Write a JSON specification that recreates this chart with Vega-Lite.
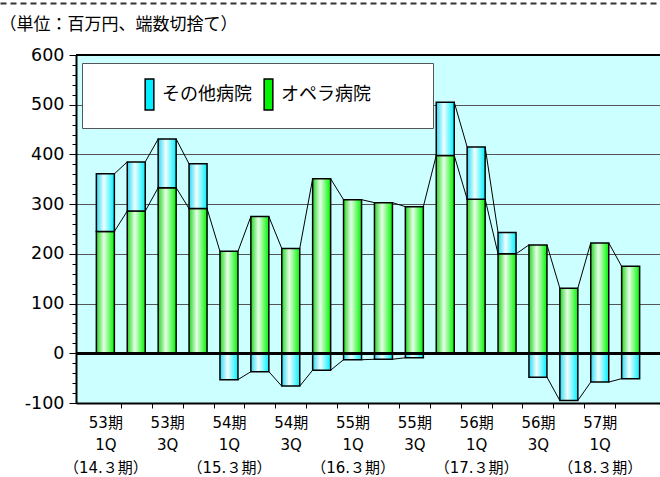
{
  "$schema": "https://vega.github.io/schema/vega-lite/v6.json",
  "width": 584,
  "height": 348,
  "autosize": "none",
  "padding": {"left": 76, "top": 55, "right": 0, "bottom": 74},
  "background": "white",
  "config": {
    "view": {"fill": "#CCFFFF", "stroke": null}
  },
  "data": {
    "values": [
      {"q": "53期1Q", "series": "オペラ病院", "value": 245}, {"q": "53期1Q", "series": "その他病院", "value": 116},
      {"q": "53期2Q", "series": "オペラ病院", "value": 286}, {"q": "53期2Q", "series": "その他病院", "value": 99},
      {"q": "53期3Q", "series": "オペラ病院", "value": 333}, {"q": "53期3Q", "series": "その他病院", "value": 98},
      {"q": "53期4Q", "series": "オペラ病院", "value": 291}, {"q": "53期4Q", "series": "その他病院", "value": 90},
      {"q": "54期1Q", "series": "オペラ病院", "value": 205}, {"q": "54期1Q", "series": "その他病院", "value": -53},
      {"q": "54期2Q", "series": "オペラ病院", "value": 275}, {"q": "54期2Q", "series": "その他病院", "value": -37},
      {"q": "54期3Q", "series": "オペラ病院", "value": 211}, {"q": "54期3Q", "series": "その他病院", "value": -66},
      {"q": "54期4Q", "series": "オペラ病院", "value": 351}, {"q": "54期4Q", "series": "その他病院", "value": -34},
      {"q": "55期1Q", "series": "オペラ病院", "value": 309}, {"q": "55期1Q", "series": "その他病院", "value": -13},
      {"q": "55期2Q", "series": "オペラ病院", "value": 303}, {"q": "55期2Q", "series": "その他病院", "value": -12},
      {"q": "55期3Q", "series": "オペラ病院", "value": 295}, {"q": "55期3Q", "series": "その他病院", "value": -9},
      {"q": "55期4Q", "series": "オペラ病院", "value": 398}, {"q": "55期4Q", "series": "その他病院", "value": 107},
      {"q": "56期1Q", "series": "オペラ病院", "value": 310}, {"q": "56期1Q", "series": "その他病院", "value": 105},
      {"q": "56期2Q", "series": "オペラ病院", "value": 200}, {"q": "56期2Q", "series": "その他病院", "value": 43},
      {"q": "56期3Q", "series": "オペラ病院", "value": 218}, {"q": "56期3Q", "series": "その他病院", "value": -48},
      {"q": "56期4Q", "series": "オペラ病院", "value": 131}, {"q": "56期4Q", "series": "その他病院", "value": -95},
      {"q": "57期1Q", "series": "オペラ病院", "value": 222}, {"q": "57期1Q", "series": "その他病院", "value": -58},
      {"q": "57期2Q", "series": "オペラ病院", "value": 175}, {"q": "57期2Q", "series": "その他病院", "value": -51}
    ]
  },
  "layer": [
    {
      "transform": [
        {"stack": "value", "groupby": ["q"], "sort": [{"field": "series", "order": "descending"}], "as": ["v0", "v1"]}
      ],
      "layer": [
        {
          "transform": [{"filter": "datum.series === 'オペラ病院'"}],
          "mark": {
            "type": "bar", "stroke": "black", "strokeWidth": 1.5,
            "fill": {"gradient": "linear", "x1": 0, "y1": 0, "x2": 1, "y2": 0, "stops": [{"offset": 0, "color": "#22D622"}, {"offset": 0.42, "color": "#E6FFE6"}, {"offset": 1, "color": "#00F500"}]}
          },
          "encoding": {
            "x": {
              "field": "q", "type": "nominal", "sort": null,
              "scale": {"paddingInner": 0.4175, "paddingOuter": 0.659},
              "axis": {
                "title": null,
                "labelAngle": 0,
                "labelOverlap": false,
                "labelFont": "DejaVu Sans, Noto Sans CJK JP",
                "labelFontSize": 15,
                "labelColor": "black",
                "labelLineHeight": 22.5,
                "labelPadding": 7,
                "labelExpr": "({'53期1Q':['53期','1Q','（14.３期）'],'53期3Q':['53期','3Q'],'54期1Q':['54期','1Q','（15.３期）'],'54期3Q':['54期','3Q'],'55期1Q':['55期','1Q','（16.３期）'],'55期3Q':['55期','3Q'],'56期1Q':['56期','1Q','（17.３期）'],'56期3Q':['56期','3Q'],'57期1Q':['57期','1Q','（18.３期）']})[datum.value] || ''",
                "tickOffset": -15.45,
                "labelOffset": 15.45,
                "tickSize": 5,
                "tickColor": "black",
                "tickOpacity": {"condition": {"test": "datum.value === '53期1Q'", "value": 0}, "value": 1},
                "domainColor": "black",
                "domainWidth": 2
              }
            },
            "y": {
              "field": "v0", "type": "quantitative",
              "scale": {"domain": [-100, 600], "nice": false, "zero": false},
              "axis": {
                "title": null,
                "values": [-100, 0, 100, 200, 300, 400, 500, 600],
                "labelExpr": "'' + datum.value",
                "labelOverlap": false,
                "labelFont": "DejaVu Sans",
                "labelFontSize": 17.5,
                "labelColor": "black",
                "labelPadding": 5,
                "tickColor": "black",
                "tickSize": 7,
                "domainColor": "black",
                "domainWidth": 2,
                "grid": true,
                "gridColor": "#555555",
                "gridWidth": 1
              }
            },
            "y2": {"field": "v1"}
          }
        },
        {
          "transform": [{"filter": "datum.series === 'その他病院'"}],
          "mark": {
            "type": "bar", "stroke": "black", "strokeWidth": 1.5,
            "fill": {"gradient": "linear", "x1": 0, "y1": 0, "x2": 1, "y2": 0, "stops": [{"offset": 0, "color": "#2AD8F2"}, {"offset": 0.42, "color": "#F0FFFF"}, {"offset": 1, "color": "#00F0FF"}]}
          },
          "encoding": {
            "x": {"field": "q", "type": "nominal", "sort": null},
            "y": {"field": "v0", "type": "quantitative"},
            "y2": {"field": "v1"}
          }
        },
        {
          "mark": {"type": "square", "opacity": 0},
          "encoding": {
            "x": {"field": "q", "type": "nominal", "sort": null},
            "y": {"field": "v1", "type": "quantitative"},
            "color": {
              "field": "series", "type": "nominal",
              "scale": {"domain": ["その他病院", "オペラ病院", "pad"], "range": ["#00F0FF", "#00F500", "#FFFFFF"]},
              "legend": {
                "title": "ああ",
                "titleOrient": "left",
                "titleFont": "Noto Sans CJK JP",
                "titleFontSize": 18,
                "titleColor": "white",
                "titlePadding": 0,
                "orient": "none",
                "legendX": 6,
                "legendY": 8,
                "direction": "horizontal",
                "fillColor": "white",
                "strokeColor": "#555555",
                "padding": 15,
                "symbolType": "M-0.28,-1H0.28V1H-0.28Z",
                "symbolSize": 961,
                "symbolOpacity": 1,
                "symbolStrokeColor": "black",
                "symbolStrokeWidth": 1.5,
                "labelOffset": -4,
                "columnPadding": 0,
                "labelFont": "Noto Sans CJK JP",
                "labelFontSize": 18,
                "labelColor": "black",
                "labelLimit": 400,
                "labelExpr": "datum.label === 'pad' ? 'あ' : datum.label",
                "encode": {
                  "symbols": {
                    "update": {
                      "fill": [
                        {"test": "datum.value === 'その他病院'", "value": {"gradient": "linear", "x1": 0, "y1": 0, "x2": 1, "y2": 0, "stops": [{"offset": 0, "color": "#2AD8F2"}, {"offset": 0.42, "color": "#F0FFFF"}, {"offset": 1, "color": "#00F0FF"}]}},
                        {"value": {"gradient": "linear", "x1": 0, "y1": 0, "x2": 1, "y2": 0, "stops": [{"offset": 0, "color": "#22D622"}, {"offset": 0.42, "color": "#E6FFE6"}, {"offset": 1, "color": "#00F500"}]}}
                      ],
                      "opacity": [{"test": "datum.value === 'pad'", "value": 0}, {"value": 1}],
                      "stroke": {"value": "black"},
                      "strokeWidth": {"value": 1.5}
                    }
                  },
                  "labels": {
                    "update": {
                      "fill": [{"test": "datum.value === 'pad'", "value": "white"}, {"value": "black"}]
                    }
                  }
                }
              }
            }
          }
        },
        {
          "transform": [
            {"window": [{"op": "lead", "field": "v1", "as": "nv1"}, {"op": "lead", "field": "q", "as": "nq"}, {"op": "lead", "field": "value", "as": "nvalue"}], "groupby": ["series"], "sort": [{"field": "q", "order": "ascending"}]},
            {"filter": "datum.nq != null && datum.value * datum.nvalue > 0"}
          ],
          "mark": {"type": "rule", "color": "black", "strokeWidth": 1, "xOffset": 9, "x2Offset": -9},
          "encoding": {
            "x": {"field": "q", "type": "nominal", "sort": null},
            "x2": {"field": "nq"},
            "y": {"field": "v1", "type": "quantitative"},
            "y2": {"field": "nv1"}
          }
        },
        {
          "mark": {"type": "rule", "color": "black", "strokeWidth": 2},
          "encoding": {"y": {"datum": 0, "type": "quantitative"}}
        },
        {
          "mark": {"type": "rule", "color": "black", "strokeWidth": 1.5},
          "encoding": {"y": {"datum": 600, "type": "quantitative"}}
        }
      ]
    },
    {
      "data": {"values": [{}]},
      "mark": {"type": "rule", "opacity": 0},
      "encoding": {
        "x": {
          "datum": 0, "type": "quantitative",
          "scale": {"domain": [0, 1], "range": [-76, 584], "nice": false, "zero": false},
          "axis": {
            "orient": "top",
            "offset": 52,
            "domain": true,
            "domainDash": [6, 4],
            "domainColor": "#333333",
            "domainWidth": 2,
            "ticks": false,
            "labels": false,
            "grid": false,
            "title": "（単位：百万円、端数切捨て）",
            "titleX": -77,
            "titleY": 21,
            "titleAlign": "left",
            "titleBaseline": "middle",
            "titleAngle": 0,
            "titleFont": "Noto Sans CJK JP",
            "titleFontSize": 17,
            "titleFontWeight": "normal",
            "titleColor": "black"
          }
        }
      }
    },
    {
      "data": {"values": [{}]},
      "mark": {"type": "rule", "opacity": 0},
      "encoding": {
        "y": {
          "datum": 0, "type": "quantitative",
          "axis": {
            "orient": "left",
            "values": [-100,-80,-60,-40,-20,0,20,40,60,80,100,120,140,160,180,200,220,240,260,280,300,320,340,360,380,400,420,440,460,480,500,520,540,560,580,600],
            "labels": false,
            "domain": false,
            "grid": false,
            "ticks": true,
            "tickSize": 4,
            "tickColor": "black",
            "title": null
          }
        }
      }
    }
  ],
  "resolve": {"scale": {"x": "independent"}, "axis": {"x": "independent", "y": "independent"}}
}
